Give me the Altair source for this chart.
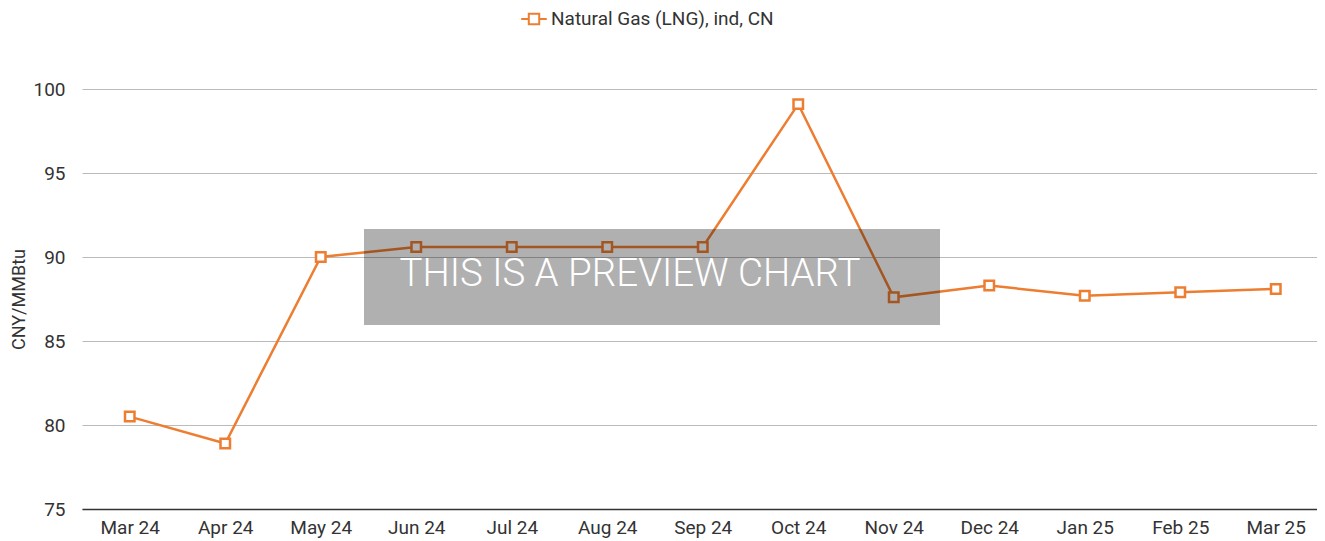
import altair as alt
import pandas as pd

months = ["Mar 24", "Apr 24", "May 24", "Jun 24", "Jul 24", "Aug 24", "Sep 24",
          "Oct 24", "Nov 24", "Dec 24", "Jan 25", "Feb 25", "Mar 25"]
values = [80.5, 78.9, 90.0, 90.6, 90.6, 90.6, 90.6, 99.1, 87.6, 88.3, 87.7, 87.9, 88.1]
series_name = "Natural Gas (LNG), ind, CN"
y_ticks = [75, 80, 85, 90, 95, 100]

ORANGE = "#ED7D31"
FONT = "Roboto"
FS = 19

df = pd.DataFrame({"month": months, "value": values, "series": series_name})

x_enc = alt.X("month:N", sort=months, title=None,
              scale=alt.Scale(paddingInner=0, paddingOuter=0, range=[0, 1241.5]),
              axis=alt.Axis(labelAngle=0, ticks=False, domain=True, domainColor="#333333",
                            domainWidth=1.5, labelFontSize=FS, labelColor="#333333",
                            labelPadding=9, labelFont=FONT, grid=False))
y_enc = alt.Y("value:Q", title="CNY/MMBtu",
              scale=alt.Scale(domain=[75, 100], nice=False, zero=False),
              axis=alt.Axis(values=y_ticks, ticks=False, domain=False, grid=True,
                            gridColor="#bbbbbb", gridWidth=1, labelFontSize=FS,
                            labelColor="#333333", labelPadding=17, labelFont=FONT,
                            titleFont=FONT, titleFontSize=18, titleFontWeight="normal",
                            titleColor="#333333", titlePadding=4))

legend_path = "M-1.1,0 L-0.45,0 M-0.45,-0.45 L0.45,-0.45 L0.45,0.45 L-0.45,0.45 Z M0.45,0 L1.1,0"

color_enc = alt.Color("series:N", scale=alt.Scale(range=[ORANGE]),
                      legend=alt.Legend(title=None, orient="none", legendX=439, legendY=-83,
                                        symbolType=legend_path, symbolSize=540,
                                        symbolStrokeWidth=2, symbolFillColor="white",
                                        symbolStrokeColor=ORANGE, labelLimit=500,
                                        labelFontSize=FS, labelFont=FONT, labelColor="#333333",
                                        labelOffset=4))

line = alt.Chart(df).mark_line(strokeWidth=2.5).encode(x=x_enc, y=y_enc, color=color_enc)
points = alt.Chart(df).mark_point(shape="square", filled=True, fill="white", size=90,
                                  strokeWidth=2.5, opacity=1).encode(
    x=alt.X("month:N", sort=months), y=alt.Y("value:Q"),
    stroke=alt.Stroke("series:N", scale=alt.Scale(range=[ORANGE]), legend=None))

wm = pd.DataFrame({"t": ["THIS IS A PREVIEW CHART"]})
rect = alt.Chart(wm).mark_rect(color="black", opacity=0.31).encode(
    x=alt.value(282), x2=alt.value(858), y=alt.value(140), y2=alt.value(236))
text = alt.Chart(wm).mark_text(color="white", fontSize=38.5, font=FONT, fontWeight=300,
                               align="center", baseline="middle").encode(
    x=alt.value(548), y=alt.value(185), text="t:N")

chart = alt.layer(line, points, rect, text).properties(
    width=1235, height=420,
    autosize=alt.AutoSizeParams(type="none"),
    padding={"left": 74, "top": 81, "right": 0, "bottom": 30}
).configure(font=FONT).configure_view(stroke=None)

chart.save("out.html", embed_options={"renderer": "svg", "actions": False})
